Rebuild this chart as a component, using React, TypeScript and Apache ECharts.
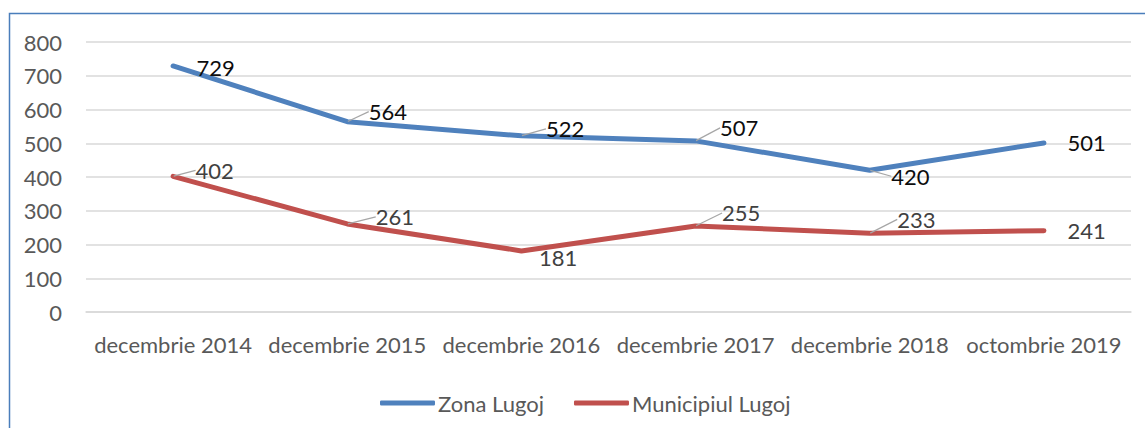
import React, { useEffect, useRef } from "react";
import * as echarts from "echarts";

const categories = [
  "decembrie 2014",
  "decembrie 2015",
  "decembrie 2016",
  "decembrie 2017",
  "decembrie 2018",
  "octombrie 2019",
];
const zonaLugoj = [729, 564, 522, 507, 420, 501];
const municipiulLugoj = [402, 261, 181, 255, 233, 241];
const yTicks = { min: 0, max: 800, interval: 100 };

// label placement (layout only): [dx from point to label left, dy of label centre]
const zonaLabelPos = [[23, 2], [21, -10], [24, -7], [24, -13], [21, 6], [23, 0]];
const munLabelPos = [[22, -6], [28, -7], [17, 7], [26, -13], [27, -14], [23, 0]];
const zonaLeader = [false, true, true, true, true, false];
const munLeader = [true, true, false, true, true, false];

const FONT = "Lato";
const FS = 22;

export default function App() {
  const ref = useRef<HTMLDivElement>(null);
  useEffect(() => {
    if (!ref.current) return;
    const chart = echarts.init(ref.current, undefined, { renderer: "svg" });
    const mkSeries = (
      name: string,
      values: number[],
      color: string,
      labelColor: string,
      pos: number[][],
      leader: boolean[]
    ) => ({
      name,
      type: "line",
      data: values.map((v, i) => ({
        value: v,
        labelLine: { show: leader[i] },
      })),
      symbol: "circle",
      symbolSize: 1,
      showSymbol: true,
      itemStyle: { color },
      lineStyle: { color, width: 5, cap: "round", join: "round" },
      label: {
        show: true,
        position: "right",
        distance: 0,
        color: labelColor,
        fontFamily: FONT,
        fontSize: FS,
      },
      labelLine: {
        show: true,
        lineStyle: { color: "#a6a6a6", width: 1.2 },
        smooth: false,
        length2: 0,
      },
      labelLayout: (p: any) => ({
        dx: pos[p.dataIndex][0],
        dy: pos[p.dataIndex][1],
      }),
      emphasis: { disabled: true },
    });
    chart.setOption({
      animation: false,
      backgroundColor: "#ffffff",
      textStyle: { fontFamily: FONT },
      graphic: [
        {
          type: "rect",
          shape: { x: 9.5, y: 13.5, width: 1300, height: 600 },
          style: { fill: "none", stroke: "#4a7ebb", lineWidth: 1.5 },
          silent: true,
          z: 100,
        },
      ],
      grid: { left: 86, right: 14, top: 42, bottom: 116, containLabel: false },
      legend: {
        left: 375,
        top: 387,
        itemWidth: 55,
        itemHeight: 5,
        itemGap: 30,
        icon: "roundRect",
        textStyle: { color: "#595959", fontSize: FS, fontFamily: FONT, padding: [0, 0, 0, -2] },
        data: ["Zona Lugoj", "Municipiul Lugoj"],
      },
      xAxis: {
        type: "category",
        data: categories,
        boundaryGap: true,
        axisLine: { show: true, lineStyle: { color: "#d9d9d9", width: 1.5 } },
        axisTick: { show: false },
        axisLabel: { color: "#595959", fontSize: FS, fontFamily: FONT, margin: 21, interval: 0 },
        splitLine: { show: false },
      },
      yAxis: {
        type: "value",
        min: yTicks.min,
        max: yTicks.max,
        interval: yTicks.interval,
        axisLine: { show: false },
        axisTick: { show: false },
        axisLabel: { color: "#595959", fontSize: FS, fontFamily: FONT, margin: 24 },
        splitLine: { lineStyle: { color: "#d9d9d9", width: 1.5 } },
      },
      series: [
        mkSeries("Zona Lugoj", zonaLugoj, "#4f81bd", "#0d0d0d", zonaLabelPos, zonaLeader),
        mkSeries("Municipiul Lugoj", municipiulLugoj, "#c0504d", "#404040", munLabelPos, munLeader),
      ],
    });
    return () => chart.dispose();
  }, []);
  return (
    <div
      ref={ref}
      style={{ position: "fixed", left: 0, top: 0, width: 1145, height: 428, background: "#fff" }}
    />
  );
}
